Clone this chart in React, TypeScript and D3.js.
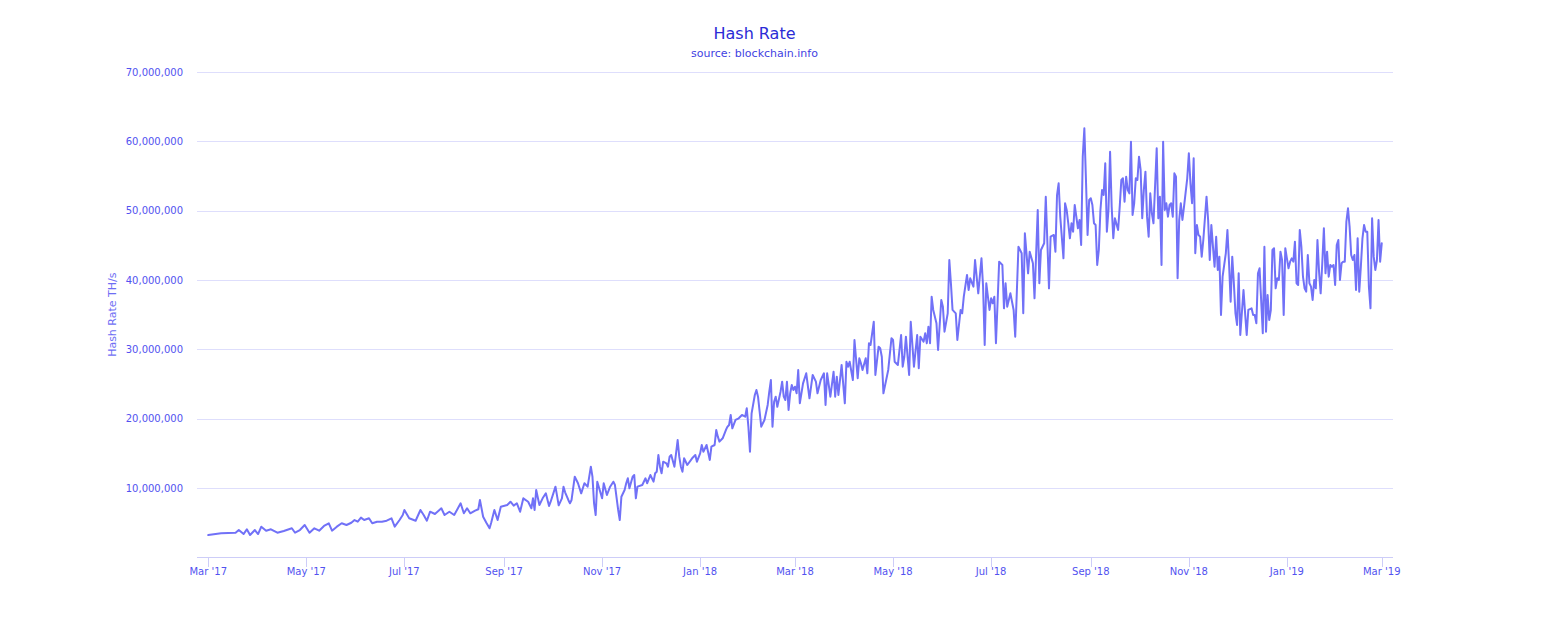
import React from "react";
import * as d3 from "d3";

const startDate = new Date(2017, 2, 1); // 1 Mar 2017
const daysSinceStart = [
  0, 8, 17, 19, 22, 24, 26, 29, 31, 33, 36, 39, 43, 47, 52, 54, 57, 60, 63, 66, 69, 72, 75, 77, 80, 83, 86, 89, 91, 93,
  95, 97, 100, 102, 105, 108, 111, 114, 116, 119, 121, 122, 125, 129, 132, 134, 136, 138, 141, 145, 147, 150, 153, 157,
  159, 161, 163, 166, 168, 169, 171, 173, 175, 176, 178, 180, 182, 186, 188, 190, 192, 194, 196, 199, 201, 202, 203, 204,
  206, 208, 210, 212, 213, 216, 218, 220, 221, 222, 224, 225, 226, 228, 230, 232, 234, 236, 238, 239, 240, 241, 242, 245,
  246, 248, 250, 252, 253, 255, 256, 257, 259, 260, 261, 262, 264, 265, 266, 267, 270, 272, 273, 275, 277, 278, 279, 280,
  281, 282, 283, 285, 286, 287, 288, 290, 292, 293, 294, 295, 296, 298, 301, 303, 304, 306, 307, 308, 310, 312, 313, 315,
  316, 317, 318, 320, 322, 323, 324, 325, 326, 328, 330, 332, 334, 335, 336, 337, 338, 340, 341, 342, 343, 344, 346, 348,
  349, 350, 351, 352, 353, 354, 356, 357, 358, 359, 360, 361, 362, 363, 364, 365, 366, 367, 368, 370, 372, 374, 376, 378,
  379, 381, 383, 384, 385, 387, 389, 390, 391, 392, 394, 396, 397, 398, 399, 401, 402, 404, 405, 406, 407, 409, 410, 411,
  412, 414, 415, 417, 418, 419, 420, 423, 425, 426, 427, 429, 431, 432, 433, 434, 436, 437, 439, 441, 442, 443, 445, 446,
  447, 448, 449, 450, 451, 453, 454, 456, 457, 458, 460, 461, 462, 463, 465, 466, 468, 469, 470, 472, 473, 474, 476, 477,
  479, 481, 482, 483, 484, 486, 487, 488, 489, 490, 491, 492, 494, 495, 496, 497, 499, 501, 502, 504, 506, 507, 508, 510,
  511, 513, 514, 516, 517, 518, 520, 521, 523, 524, 526, 527, 528, 529, 530, 532, 533, 534, 535, 536, 537, 538, 539, 541,
  542, 543, 544, 545, 546, 547, 548, 549, 550, 551, 552, 553, 554, 555, 556, 557, 558, 559, 560, 561, 562, 563, 564, 566,
  567, 568, 569, 570, 571, 572, 573, 574, 575, 576, 577, 578, 579, 580, 581, 582, 583, 584, 585, 586, 587, 588, 590, 591,
  592, 593, 594, 595, 596, 597, 598, 599, 600, 601, 602, 603, 604, 605, 606, 607, 609, 610, 611, 612, 613, 614, 615, 616,
  617, 618, 619, 621, 622, 623, 624, 625, 626, 627, 628, 629, 630, 631, 633, 634, 635, 636, 637, 638, 639, 640, 641, 642,
  644, 645, 646, 647, 649, 650, 651, 652, 653, 654, 656, 657, 658, 659, 660, 661, 662, 663, 664, 665, 666, 667, 668, 669,
  670, 671, 672, 673, 674, 675, 676, 677, 678, 679, 680, 681, 682, 683, 684, 685, 686, 687, 688, 689, 690, 691, 692, 693,
  694, 695, 696, 697, 698, 699, 700, 701, 702, 703, 704, 705, 706, 707, 708, 709, 710, 711, 712, 713, 714, 715, 716, 717,
  718, 719, 720, 721, 722, 723, 724, 725, 726, 727, 728, 729, 730,
];
const hashRateMillionTHs = [
  3.23, 3.47, 3.56, 3.95, 3.37, 4.05, 3.23, 3.95, 3.37, 4.43, 3.85, 4.05, 3.56, 3.81, 4.2, 3.56, 3.95, 4.67, 3.56, 4.2,
  3.85, 4.53, 4.92, 3.85, 4.43, 4.92, 4.67, 5.0, 5.39, 5.15, 5.73, 5.39, 5.64, 4.92, 5.15, 5.15, 5.29, 5.64, 4.43, 5.39,
  6.11, 6.84, 5.64, 5.29, 6.84, 6.11, 5.29, 6.59, 6.26, 7.08, 6.11, 6.59, 6.11, 7.8, 6.36, 7.08, 6.36, 6.74, 6.94, 8.28,
  5.87, 5.0, 4.2, 5.0, 6.84, 5.39, 7.31, 7.56, 8.03, 7.46, 7.8, 6.59, 8.52, 8.03, 7.08, 8.52, 6.84, 9.72, 7.56, 8.52, 9.24,
  7.41, 8.03, 10.2, 7.51, 8.52, 10.2, 9.39, 8.28, 7.8, 8.28, 11.64, 10.69, 9.24, 10.69, 10.2, 13.08, 11.64, 7.8, 6.11,
  10.92, 8.52, 10.69, 9.0, 10.2, 10.92, 10.44, 6.84, 5.39, 8.75, 9.72, 10.69, 11.41, 9.96, 11.64, 11.88, 8.52, 10.2, 10.44,
  11.41, 10.69, 11.88, 10.92, 12.13, 12.36, 14.77, 13.08, 12.13, 13.8, 13.57, 13.08, 14.52, 14.77, 13.08, 16.93, 14.52,
  13.08, 12.36, 14.29, 13.33, 14.29, 14.77, 13.8, 15.01, 16.21, 15.24, 16.21, 14.05, 15.97, 16.21, 18.37, 17.41, 16.69,
  17.18, 18.37, 18.85, 19.09, 20.54, 18.62, 19.82, 20.06, 20.54, 20.29, 21.5, 18.85, 15.24, 20.78, 23.42, 24.14, 23.18,
  21.01, 18.85, 19.82, 21.98, 23.9, 25.58, 18.85, 22.45, 23.18, 21.73, 23.9, 25.34, 23.18, 22.7, 25.34, 21.26, 23.66,
  24.86, 24.14, 24.62, 23.66, 27.03, 22.22, 25.1, 26.55, 22.94, 26.31, 25.34, 23.66, 25.58, 26.55, 21.98, 26.55, 23.18,
  26.78, 23.18, 26.06, 23.42, 27.75, 22.22, 28.22, 27.5, 28.22, 25.58, 31.35, 25.83, 28.71, 27.99, 27.03, 28.71, 26.55,
  30.88, 30.63, 33.99, 26.31, 30.39, 30.16, 28.94, 23.66, 27.03, 31.6, 31.35, 28.22, 27.75, 32.07, 27.5, 28.94, 31.83,
  26.31, 33.99, 27.5, 32.07, 27.27, 31.83, 31.11, 32.32, 30.88, 33.27, 30.88, 37.6, 35.68, 33.76, 29.91, 37.12, 36.16,
  32.55, 35.2, 42.89, 39.5, 35.7, 35.2, 31.35, 35.68, 35.2, 37.6, 40.73, 38.56, 40.25, 39.04, 42.89, 38.08, 43.13, 39.04,
  30.63, 39.53, 35.68, 37.36, 36.64, 37.6, 30.88, 36.64, 42.65, 42.17, 35.92, 39.53, 36.16, 38.08, 35.68, 31.83, 44.81,
  43.86, 35.2, 46.74, 40.97, 44.09, 42.41, 37.36, 50.1, 39.53, 44.33, 45.3, 52.02, 38.8, 46.25, 46.5, 44.09, 52.26, 53.95,
  49.14, 43.13, 51.07, 50.1, 48.18, 46.02, 48.18, 46.97, 50.82, 47.46, 48.66, 45.05, 57.79, 61.88, 54.43, 46.5, 51.54,
  51.79, 50.82, 48.18, 47.94, 42.17, 44.33, 50.1, 52.98, 52.26, 56.84, 46.97, 50.1, 58.51, 50.58, 46.02, 48.9, 47.22,
  50.58, 54.43, 54.67, 51.3, 54.9, 52.98, 52.5, 59.95, 49.38, 51.07, 54.67, 54.43, 57.79, 55.87, 48.9, 52.98, 55.63, 49.14,
  46.25, 52.5, 49.62, 48.18, 59.0, 48.9, 52.02, 42.17, 59.95, 50.1, 51.07, 49.14, 50.82, 51.07, 49.14, 55.39, 54.9, 40.25,
  48.66, 51.07, 48.66, 50.58, 54.67, 58.28, 53.95, 51.07, 57.56, 43.86, 47.94, 46.5, 46.25, 43.37, 45.77, 52.02, 48.66,
  42.89, 47.94, 44.81, 41.92, 46.25, 41.45, 43.37, 34.96, 40.48, 43.86, 47.22, 42.41, 36.88, 43.37, 39.53, 35.2, 33.52,
  40.97, 32.07, 38.56, 35.2, 32.07, 35.68, 35.92, 34.96, 34.96, 33.76, 40.97, 41.69, 32.32, 44.81, 32.55, 37.84, 34.24,
  35.68, 44.33, 44.58, 38.8, 40.25, 40.0, 44.09, 42.89, 34.96, 44.58, 43.13, 41.69, 42.65, 43.13, 42.65, 45.53, 39.53,
  39.28, 47.22, 44.81, 40.48, 38.8, 38.32, 43.61, 39.53, 39.04, 37.12, 40.0, 38.8, 45.77, 41.2, 38.08, 42.41, 47.46, 40.97,
  44.09, 40.48, 42.17, 41.92, 42.17, 39.28, 45.05, 45.77, 40.0, 42.41, 42.65, 42.65, 48.42, 50.35, 47.7, 43.61, 42.89,
  43.61, 38.56, 46.02, 38.32, 41.92, 46.02, 47.94, 46.97, 46.97, 39.04, 35.92, 48.9, 43.37, 41.45, 42.89, 48.66, 42.65,
  45.29,
];

const yTickValues = [10000000, 20000000, 30000000, 40000000, 50000000, 60000000, 70000000];
const xTickDates = [
  "2017-03-01", "2017-05-01", "2017-07-01", "2017-09-01", "2017-11-01", "2018-01-01", "2018-03-01",
  "2018-05-01", "2018-07-01", "2018-09-01", "2018-11-01", "2019-01-01", "2019-03-01",
];
const xTickLabels = [
  "Mar '17", "May '17", "Jul '17", "Sep '17", "Nov '17", "Jan '18", "Mar '18",
  "May '18", "Jul '18", "Sep '18", "Nov '18", "Jan '19", "Mar '19",
];

const parseDay = (s: string) => {
  const [y, m, d] = s.split("-").map(Number);
  return new Date(y, m - 1, d);
};

export default function App() {
  const W = 1566;
  const H = 624;
  const left = 197;
  const right = 1393;
  const top = 72;
  const bottom = 557.4;

  const x = d3
    .scaleTime()
    .domain([new Date(2017, 1, 22), new Date(2019, 2, 8)])
    .range([left, right]);
  const y = d3.scaleLinear().domain([0, 70000000]).range([bottom, top]);

  const points = daysSinceStart.map((d, i) => ({
    date: d3.timeDay.offset(startDate, d),
    value: hashRateMillionTHs[i] * 1e6,
  }));

  const line = d3
    .line<{ date: Date; value: number }>()
    .x((p) => x(p.date))
    .y((p) => y(p.value));

  const fmt = d3.format(",");
  const font = "'DejaVu Sans', Verdana, sans-serif";

  return (
    <svg
      width={W}
      height={H}
      style={{ position: "absolute", left: 0, top: 0, background: "#ffffff" }}
      fontFamily={font}
    >
      <rect x={0} y={0} width={W} height={H} fill="#ffffff" />
      {/* gridlines */}
      {yTickValues.map((v) => (
        <line
          key={"g" + v}
          x1={left}
          x2={right}
          y1={Math.round(y(v)) + 0.5}
          y2={Math.round(y(v)) + 0.5}
          stroke="#dedefc"
          strokeWidth={1}
        />
      ))}
      {/* y labels */}
      {yTickValues.map((v) => (
        <text
          key={"yl" + v}
          x={183}
          y={y(v) + 3.5}
          textAnchor="end"
          fontSize={10}
          fill="#5252f0"
        >
          {fmt(v)}
        </text>
      ))}
      {/* y title */}
      <text
        transform={`translate(116, ${(top + bottom) / 2}) rotate(-90)`}
        textAnchor="middle"
        fontSize={11}
        fill="#6e6ef4"
      >
        Hash Rate TH/s
      </text>
      {/* x axis line */}
      <line x1={left} x2={right} y1={557.5} y2={557.5} stroke="#cdcdf8" strokeWidth={1} />
      {xTickDates.map((s, i) => {
        const px = Math.round(x(parseDay(s))) + 0.5;
        return (
          <g key={"xt" + s}>
            <line x1={px} x2={px} y1={557.5} y2={567} stroke="#cdcdf8" strokeWidth={1} />
            <text x={x(parseDay(s))} y={575} textAnchor="middle" fontSize={10} fill="#5252f0">
              {xTickLabels[i]}
            </text>
          </g>
        );
      })}
      {/* series */}
      <path
        d={line(points) || ""}
        fill="none"
        stroke="#7171f7"
        strokeWidth={2}
        strokeLinejoin="round"
        strokeLinecap="round"
      />
      {/* titles */}
      <text x={754.5} y={39} textAnchor="middle" fontSize={16} fill="#2b2bd6">
        Hash Rate
      </text>
      <text x={754.5} y={57} textAnchor="middle" fontSize={11} fill="#3f3fe2">
        source: blockchain.info
      </text>
    </svg>
  );
}
